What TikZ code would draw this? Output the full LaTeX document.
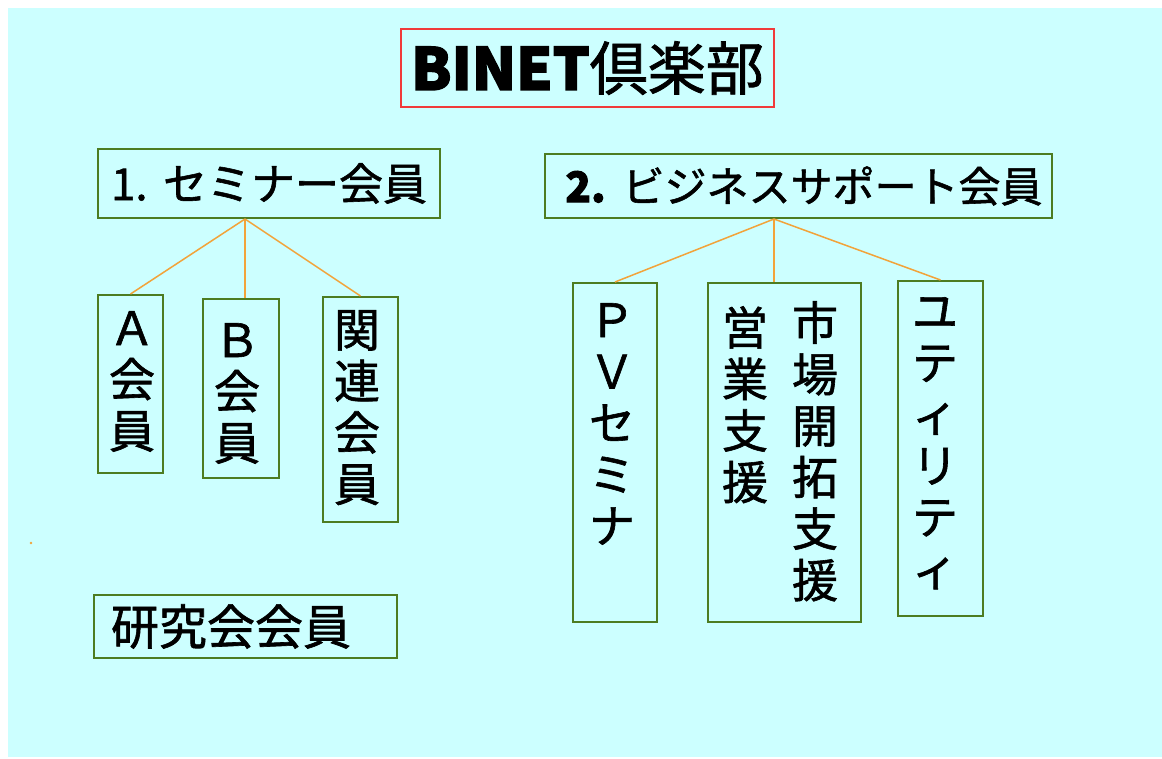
\documentclass[tikz,border=0pt]{standalone}
\usepackage{fontspec}
\setmainfont{Noto Sans CJK JP}[FakeBold=1.3, BoldFeatures={FakeBold=2.5}]
\usetikzlibrary{calc}
\definecolor{bg}{HTML}{CCFFFF}
\definecolor{boxgreen}{HTML}{4D7C21}
\definecolor{lineorange}{HTML}{F2A33A}
\definecolor{titlered}{HTML}{F03A3A}
\begin{document}
\begin{tikzpicture}[x=1pt,y=-1pt,
  box/.style={draw=boxgreen, line width=2pt, inner sep=0pt, text=black},
  vt/.style={inner sep=0pt, align=center, font=\fontsize{46}{51.5}\selectfont},
  conn/.style={draw=lineorange, line width=1.5pt}]
\useasboundingbox (0,0) rectangle (1162,758);
\fill[white] (0,0) rectangle (1162,758);
\fill[bg] (8,8) rectangle (1162,757);

% title
\node[draw=titlered, line width=1.6pt, inner sep=0pt, minimum width=373pt, minimum height=78pt,
      font=\fontsize{58}{60}\selectfont] (title) at (587.5,68) {{\bfseries BINET}倶楽部};

% section headers
\node[box, minimum width=342pt, minimum height=69pt, font=\fontsize{44}{48}\selectfont]
  (s1) at (269,183.5) {1.\hspace{0.35em}セミナー会員};
\node[box, minimum width=507pt, minimum height=64pt, font=\fontsize{42}{46}\selectfont]
  (s2) at (798.5,186) {\hspace*{11pt}{\bfseries 2.}\hspace{0.4em}ビジネスサポート会員};

% seminar members
\node[box, minimum width=65pt, minimum height=178pt] (a) at (130.5,384) {};
\node[vt, anchor=north] (at) at (132,311) {Ａ\\会\\員};
\node[box, minimum width=76pt, minimum height=179pt] (b) at (241,388.5) {};
\node[vt, anchor=north] (bt) at (237,323) {Ｂ\\会\\員};
\node[box, minimum width=75pt, minimum height=225pt] (c) at (360.5,409.5) {};
\node[vt, anchor=north] (ct) at (357,310) {関\\連\\会\\員};

% business support members
\node[box, minimum width=84pt, minimum height=339pt] (pv) at (615,452.5) {};
\node[vt, anchor=north] (pvt) at (612,303) {Ｐ\\Ｖ\\セ\\ミ\\ナ};
\node[box, minimum width=153pt, minimum height=339pt] (mid) at (784.5,452.5) {};
\node[vt, anchor=north] (midr) at (815,301) {市\\場\\開\\拓\\支\\援};
\node[vt, anchor=north] (midl) at (745,306) {営\\業\\支\\援};
\node[box, minimum width=85pt, minimum height=335pt] (ut) at (940.5,448.5) {};
\node[vt, anchor=north] (utt) at (935,297) {ユ\\テ\\ィ\\リ\\テ\\ィ};

% research members
\node[box, minimum width=303pt, minimum height=63pt, font=\fontsize{48}{50}\selectfont]
  (k) at (245.5,626.5) {研究会会員\hspace*{29pt}};

% connectors
\coordinate (j1) at ($(s1.south west)+(148,0)$);
\coordinate (j2) at ($(s2.south west)+(230,0)$);
\draw[conn] (j1) -- (a.north);
\draw[conn] (j1) -- (j1 |- b.north);
\draw[conn] (j1) -- (c.north);
\draw[conn] (j2) -- (pv.north);
\draw[conn] (j2) -- (j2 |- mid.north);
\draw[conn] (j2) -- (ut.north);

% stray dot
\fill[lineorange] (31,543) circle (1.3pt);
\end{tikzpicture}
\end{document}
